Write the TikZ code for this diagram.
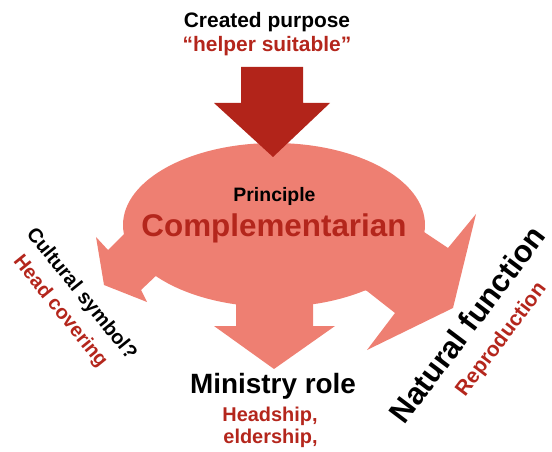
\documentclass[tikz,border=0pt]{standalone}
\usepackage{fontspec}
\setmainfont{Liberation Sans}
\definecolor{blobpink}{RGB}{238,127,114}
\definecolor{deepred}{RGB}{178,36,26}
\definecolor{textred}{RGB}{180,38,28}

\begin{document}
\begin{tikzpicture}[x=1bp,y=-1bp,
  lbl/.style={inner sep=0pt, anchor=base, font=\bfseries},
  fs/.style={font=\bfseries\fontsize{#1}{#1}\selectfont}]
\useasboundingbox (0,0) rectangle (552,452);

% central blob with its three outgoing arrows
\fill[blobpink] (274,225) ellipse [x radius=151bp, y radius=82bp];
% down arrow
\fill[blobpink] (236,290) -- (236,326) -- (214,326) -- (274,369)
  -- (335,326) -- (313,326) -- (313,290) -- cycle;
% left arrow
\fill[blobpink] (132,226) -- (108,250) -- (96,237) -- (104,285)
  -- (147,302) -- (141,290) -- (160,272) -- (178,255) -- cycle;
% right arrow
\fill[blobpink] (400,250) -- (424,232) -- (448,248) -- (476,214)
  -- (453,308) -- (367,350) -- (395,313) -- (367,291) -- (340,280) -- cycle;

% incoming arrow from the top
\fill[deepred] (241,67) -- (303,67) -- (303,103) -- (330,103)
  -- (273,157) -- (214,103) -- (241,103) -- cycle;

% labels
\node[lbl, fs=21] (purpose) at (267,28) {Created purpose};
\node[lbl, fs=21, text=textred] (helper) at (267,52) {“helper suitable”};

\node[lbl, fs=19.5] (principle) at (274.5,202) {Principle};
\node[lbl, fs=31.5, text=textred] (compl) at (274,237) {Complementarian};

\node[lbl, fs=28] (ministry) at (273,393) {Ministry role};
\node[lbl, fs=20, text=textred] (headship) at (270,421) {Headship,};
\node[lbl, fs=20, text=textred] (eldership) at (270.5,443) {eldership,};

\node[lbl, fs=20, rotate=-51] (cultural) at (77,297.5) {Cultural symbol?};
\node[lbl, fs=20, rotate=-51, text=textred] (covering) at (56,315) {Head covering};

\node[lbl, fs=31, rotate=53] (natural) at (476,331) {Natural function};
\node[lbl, fs=21, rotate=53, text=textred] (repro) at (506,343) {Reproduction};
\end{tikzpicture}
\end{document}
